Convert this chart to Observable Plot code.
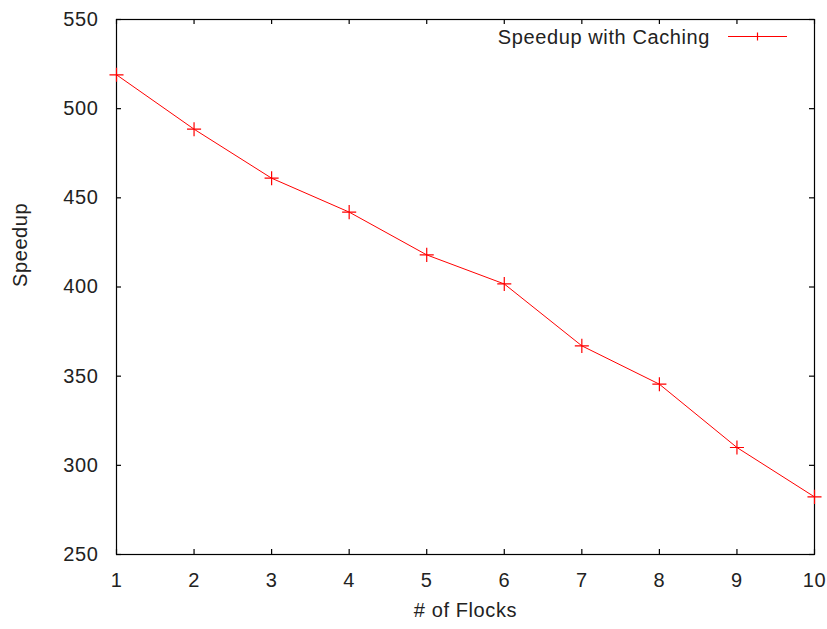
<!DOCTYPE html>
<html>
<head>
<meta charset="utf-8">
<script src="https://cdn.jsdelivr.net/npm/d3@7"></script>
<script src="https://cdn.jsdelivr.net/npm/@observablehq/plot@0.6"></script>
<style>
  body { margin: 0; background: #fff; }
  #chart { position: relative; width: 827px; height: 629px; font-family: "Liberation Sans", Arial, sans-serif; }
  #chart text { letter-spacing: 0.6px; }
  #legend { position: absolute; top: 0; left: 0; width: 827px; height: 629px; pointer-events: none; }
</style>
</head>
<body>
<div id="chart"></div>
<script>
const flocks = [1, 2, 3, 4, 5, 6, 7, 8, 9, 10];
const speedup = [519, 488.5, 461, 442, 418, 401.7, 367, 345.5, 310, 282.3];
const xTicks = [1, 2, 3, 4, 5, 6, 7, 8, 9, 10];
const yTicks = [250, 300, 350, 400, 450, 500, 550];
const seriesLabel = "Speedup with Caching";
const xLabel = "# of Flocks";
const yLabel = "Speedup";

const data = flocks.map((f, i) => ({x: f, y: speedup[i]}));
const W = 827, H = 629;
const mL = 116, mR = 13, mT = 19, mB = 75;
const innerW = W - mL - mR, innerH = H - mT - mB;
const tl = 5;
const font = 20;

const chart = Plot.plot({
  width: W, height: H,
  marginLeft: mL, marginRight: mR, marginTop: mT, marginBottom: mB,
  style: {fontFamily: '"Liberation Sans", Arial, sans-serif', fontSize: font + "px", color: "#222", background: "#fff"},
  x: {domain: [1, 10]},
  y: {domain: [250, 550]},
  marks: [
    Plot.axisX({ticks: xTicks, tickSize: 0, tickPadding: 18, label: null, fontSize: font, fill: "#222"}),
    Plot.axisY({ticks: yTicks, tickSize: 0, tickPadding: 18, label: null, fontSize: font, fill: "#222"}),
    Plot.tickX(xTicks, {x: d => d, insetTop: innerH - tl, stroke: "#000", strokeWidth: 1.2}),
    Plot.tickX(xTicks, {x: d => d, insetBottom: innerH - tl, stroke: "#000", strokeWidth: 1.2}),
    Plot.tickY(yTicks, {y: d => d, insetRight: innerW - tl, stroke: "#000", strokeWidth: 1.2}),
    Plot.tickY(yTicks, {y: d => d, insetLeft: innerW - tl, stroke: "#000", strokeWidth: 1.2}),
    Plot.frame({stroke: "#000", strokeWidth: 1.2}),
    Plot.line(data, {x: "x", y: "y", stroke: "#ff0000", strokeWidth: 1}),
    Plot.dot(data, {x: "x", y: "y", symbol: "plus", r: 4.6, stroke: "#ff0000", strokeWidth: 1.2}),
    Plot.text([yLabel], {frameAnchor: "left", rotate: -90, dx: -96, fontSize: font, fill: "#222"}),
    Plot.text([xLabel], {frameAnchor: "bottom", dy: 62, fontSize: font, fill: "#222"})
  ]
});
document.getElementById("chart").appendChild(chart);

// legend overlay
const ns = "http://www.w3.org/2000/svg";
const lg = document.createElementNS(ns, "svg");
lg.setAttribute("id", "legend");
lg.setAttribute("width", W);
lg.setAttribute("height", H);
lg.innerHTML = `
  <text x="710" y="43.5" text-anchor="end" font-family='"Liberation Sans", Arial, sans-serif' font-size="${font}" fill="#222">${seriesLabel}</text>
  <line x1="728" x2="787" y1="36.5" y2="36.5" stroke="#ff0000" stroke-width="1"/>
  <line x1="757.5" x2="757.5" y1="32.5" y2="40.5" stroke="#ff0000" stroke-width="1.2"/>
`;
document.getElementById("chart").appendChild(lg);
</script>
</body>
</html>
